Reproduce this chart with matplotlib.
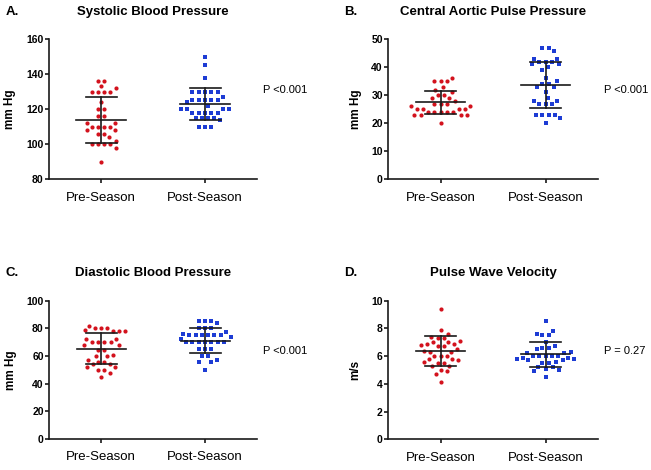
import matplotlib
matplotlib.use('Agg')
import matplotlib.pyplot as plt
import numpy as np

plt.rcParams['font.family'] = ['Liberation Sans', 'DejaVu Sans']

groups = ['Pre-Season', 'Post-Season']

# A. systolic blood pressure (mm Hg)
sbp_pre = [136, 136, 133, 132, 130, 130, 130, 130, 124, 120, 120, 116, 116,
           112, 112, 110, 110, 110, 110, 108, 108, 106, 106, 104, 102,
           100, 100, 100, 100, 98, 90]
sbp_post = [150, 145, 138, 130, 130, 130, 130, 130, 127, 125, 125, 125, 125, 125,
            124, 122, 120, 120, 120, 120, 118, 118, 118, 118, 118,
            115, 115, 115, 115, 114, 110, 110, 110]
sbp_mean = [113.7, 122.9]
sbp_sd = [12.9, 9.0]

# B. central aortic pulse pressure (mm Hg)
cpp_pre = [36, 35, 35, 35, 33, 32, 31, 30, 30, 29, 29, 28, 27, 27, 27, 26, 26,
           25, 25, 25, 25, 24, 24, 24, 24, 24, 23, 23, 23, 23, 20]
cpp_post = [47, 47, 46, 43, 43, 42, 42, 42, 41, 41, 40, 39, 36, 35, 34, 34, 33, 33,
            31, 29, 28, 28, 27, 27, 27, 23, 23, 23, 23, 22, 20]
cpp_mean = [27.4, 33.8]
cpp_sd = [4.2, 8.2]

# C. diastolic blood pressure (mm Hg)
dbp_pre = [82, 80, 80, 80, 79, 78, 78, 78, 72, 72, 70, 70, 70, 70, 68, 68, 64, 64,
           61, 60, 60, 57, 56, 56, 54, 54, 52, 52, 50, 50, 48, 45]
dbp_post = [85, 85, 85, 84, 80, 80, 80, 77, 76, 75, 75, 75, 75, 75, 75, 74, 72,
            70, 70, 70, 70, 70, 70, 70, 65, 65, 65, 60, 60, 57, 56, 56, 50]
dbp_mean = [65.1, 71.1]
dbp_sd = [11.2, 9.2]

# D. pulse wave velocity (m/s)
pwv_pre = [9.4, 7.9, 7.6, 7.4, 7.3, 7.3, 7.1, 7.0, 7.0, 6.9, 6.9, 6.8, 6.7, 6.7,
           6.5, 6.4, 6.3, 6.3, 6.0, 6.0, 6.0, 5.8, 5.8, 5.7, 5.6, 5.5, 5.5,
           5.3, 5.3, 5.0, 4.9, 4.7, 4.1]
pwv_post = [8.5, 7.8, 7.6, 7.5, 7.5, 7.0, 6.7, 6.6, 6.6, 6.5, 6.3, 6.2, 6.2,
            6.0, 6.0, 6.0, 6.0, 6.0, 5.9, 5.9, 5.8, 5.8, 5.7, 5.7, 5.6, 5.5, 5.5,
            5.2, 5.2, 5.1, 5.0, 4.9, 4.5]
pwv_mean = [6.39, 6.14]
pwv_sd = [1.08, 0.90]

panels = [
    ('A.', 'Systolic Blood Pressure', 'mm Hg', (80, 160), 20, sbp_pre, sbp_post, sbp_mean, sbp_sd, 'P <0.001'),
    ('B.', 'Central Aortic Pulse Pressure', 'mm Hg', (0, 50), 10, cpp_pre, cpp_post, cpp_mean, cpp_sd, 'P <0.001'),
    ('C.', 'Diastolic Blood Pressure', 'mm Hg', (0, 100), 20, dbp_pre, dbp_post, dbp_mean, dbp_sd, 'P <0.001'),
    ('D.', 'Pulse Wave Velocity', 'm/s', (0, 10), 2, pwv_pre, pwv_post, pwv_mean, pwv_sd, 'P = 0.27'),
]

rects = [
    [0.0753, 0.6191, 0.3195, 0.2979],
    [0.5965, 0.6191, 0.3221, 0.2972],
    [0.0757, 0.0660, 0.3190, 0.2943],
    [0.5965, 0.0653, 0.3221, 0.2949],
]

red = '#d3121d'
blue = '#1d3cd4'
ink = '#1a1a1a'


def swarm_offsets(ax, values, d=6.3):
    # GraphPad-like scatter: equal values in centred rows, others pushed aside
    vals = np.asarray(values, dtype=float)
    ypx = ax.transData.transform(np.column_stack([np.ones_like(vals), vals]))[:, 1]
    xscale = ax.transData.transform((2, 0))[0] - ax.transData.transform((1, 0))[0]
    uniq, counts = np.unique(vals, return_counts=True)
    order = sorted(range(len(uniq)), key=lambda i: (-counts[i], -uniq[i]))
    placed = []
    out = np.zeros_like(vals)
    for gi in order:
        v, n = uniq[gi], counts[gi]
        y = ypx[np.where(vals == v)[0][0]]
        shifts = [0.0]
        for k in np.arange(0.25, 200, 0.25):
            shifts += [k, -k]
        for s in shifts:
            if n % 2 == 0:
                if s < 0:
                    continue
                half = [(d / 2 + j * d + s) for j in range(n // 2)]
                xs = half + [-h for h in half]
            else:
                xs = [s + (i - (n - 1) / 2) * d for i in range(n)]
            ok = True
            for x in xs:
                for px, py in placed:
                    if (x - px) ** 2 + (y - py) ** 2 < (0.95 * d) ** 2:
                        ok = False
                        break
                if not ok:
                    break
            if ok:
                break
        idx = np.where(vals == v)[0]
        for x, i in zip(xs, idx):
            placed.append((x, y))
            out[i] = x / xscale
    return out


fig = plt.figure(figsize=(6.51, 4.70), dpi=100)

for rect, (tag, title, ylab, ylim, step, pre, post, means, sds, ptxt) in zip(rects, panels):
    ax = fig.add_axes(rect)
    ax.set_xlim(0.5, 2.5)
    ax.set_ylim(*ylim)
    for sp in ['top', 'right']:
        ax.spines[sp].set_visible(False)
    for sp in ['left', 'bottom']:
        ax.spines[sp].set_linewidth(1.2)
        ax.spines[sp].set_color(ink)

    for xi, (vals, col, mk, ms) in enumerate([(pre, red, 'o', 3.0), (post, blue, 's', 2.8)]):
        xc = xi + 1
        offs = swarm_offsets(ax, vals)
        ax.plot(xc + offs, vals, linestyle='none', marker=mk, markersize=ms,
                color=col, markeredgewidth=0, zorder=2)
        m, s = means[xi], sds[xi]
        ax.plot([xc - 0.236, xc + 0.236], [m, m], color=ink, lw=1.2, zorder=3)
        ax.plot([xc - 0.149, xc + 0.149], [m + s, m + s], color=ink, lw=1.2, zorder=3)
        ax.plot([xc - 0.149, xc + 0.149], [m - s, m - s], color=ink, lw=1.2, zorder=3)
        ax.plot([xc, xc], [m - s, m + s], color=ink, lw=1.2, zorder=3)

    ax.set_xticks([1, 2])
    ax.set_xticklabels(groups, fontsize=9.5)
    ax.set_yticks(np.arange(ylim[0], ylim[1] + step / 2, step))
    ax.tick_params(axis='x', length=3, width=1.2, pad=6, color=ink)
    ax.tick_params(axis='y', length=3, width=1.2, pad=1, color=ink, labelsize=7.5)
    for lbl in ax.get_yticklabels():
        lbl.set_fontweight('bold')
    ax.set_ylabel(ylab, fontsize=8.5, fontweight='bold', labelpad=7)

    ax.set_title(title, fontsize=9.5, fontweight='bold', pad=17.6)
    ax.annotate(tag, xy=(0, 1), xycoords='axes fraction', xytext=(-31.5, 17.6),
                textcoords='offset points', ha='left', va='baseline',
                fontsize=9.5, fontweight='bold')
    ax.annotate(ptxt, xy=(1, 0.635), xycoords='axes fraction', xytext=(4.5, 0),
                textcoords='offset points', ha='left', va='center', fontsize=8)

fig.savefig('out.png', dpi=100)
